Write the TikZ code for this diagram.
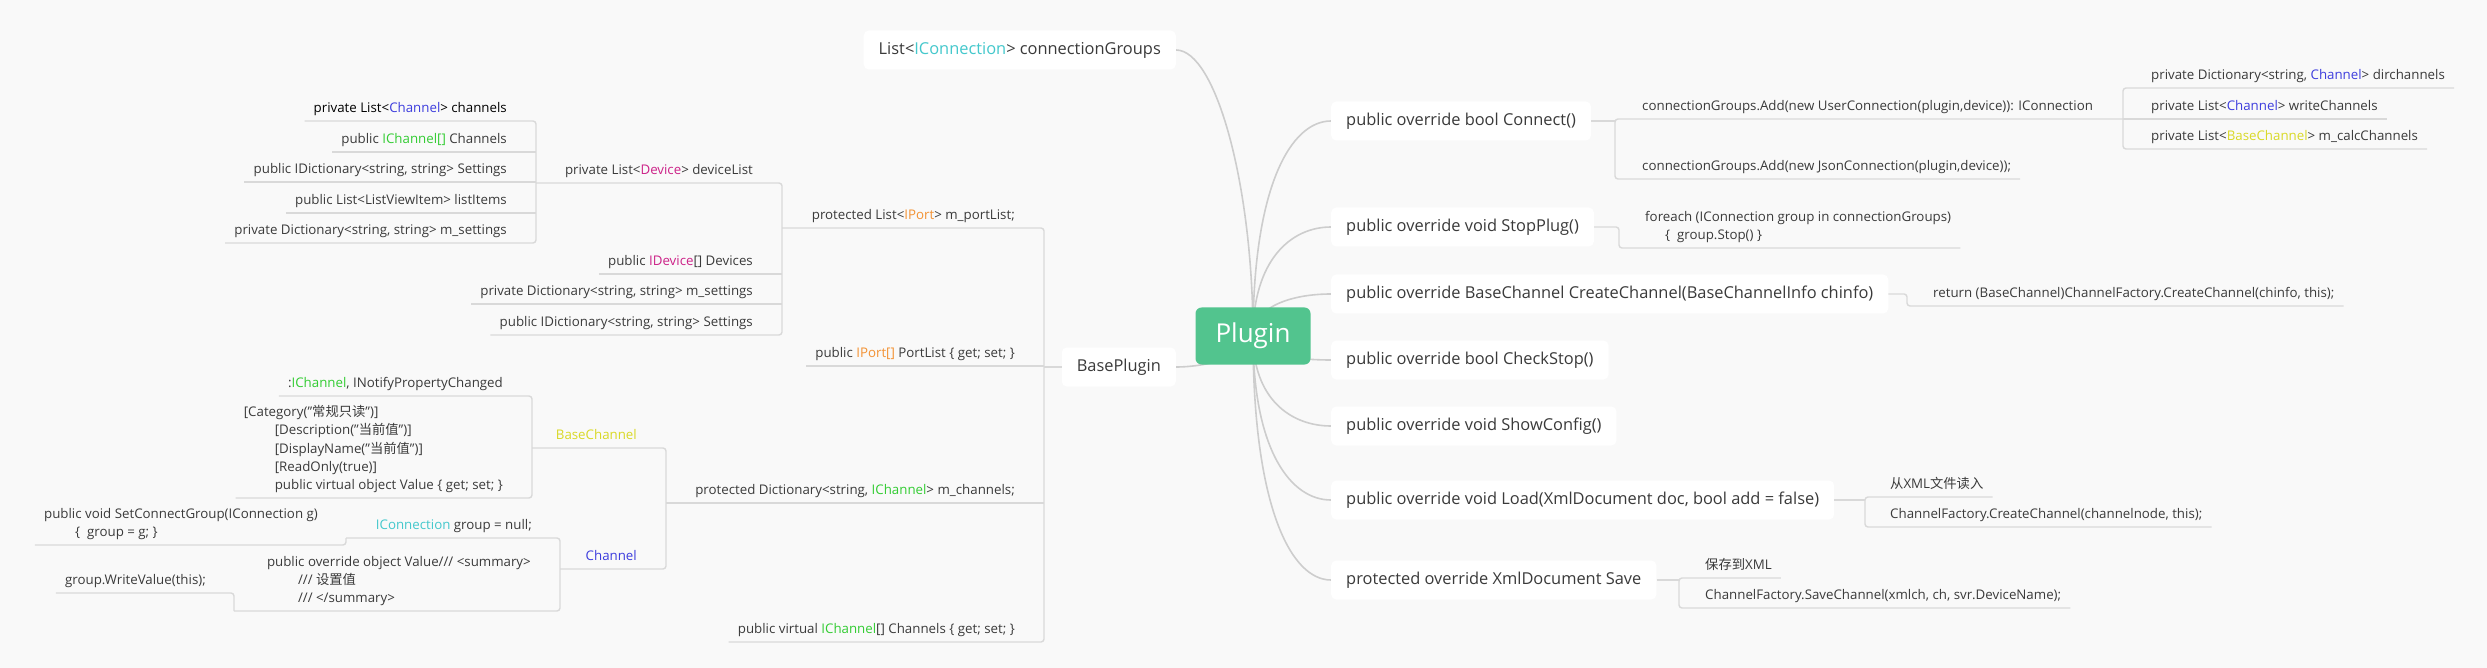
\documentclass[tikz,border=0pt]{standalone}
\usepackage{fontspec}
\setmainfont{Open Sans}
\newfontfamily\cjk{Noto Sans CJK SC}
\usetikzlibrary{calc}

\definecolor{bgcol}{HTML}{F9F9F9}
\definecolor{plugingreen}{HTML}{52C48E}
\definecolor{linkgray}{HTML}{CDCDCD}
\definecolor{leafgray}{HTML}{D9D9D9}
\definecolor{txt}{HTML}{3A3A3A}
\definecolor{conncol}{HTML}{44C8CC}
\definecolor{portcol}{HTML}{F39233}
\definecolor{devcol}{HTML}{CC2288}
\definecolor{ichcol}{HTML}{33CC33}
\definecolor{chcol}{HTML}{3D3DDD}
\definecolor{bchcol}{HTML}{D9D926}

\newcommand{\kwConn}{\textcolor{conncol}{IConnection}}
\newcommand{\kwPort}{\textcolor{portcol}{IPort}}
\newcommand{\kwDev}{\textcolor{devcol}{Device}}
\newcommand{\kwICh}{\textcolor{ichcol}{IChannel}}
\newcommand{\kwCh}{\textcolor{chcol}{Channel}}
\newcommand{\kwBCh}{\textcolor{bchcol}{BaseChannel}}
\newcommand{\tabin}{\hspace*{31pt}}

\pgfdeclarelayer{back}
\pgfdeclarelayer{links}
\pgfsetlayers{back,links,main}

\begin{document}
\begin{tikzpicture}[x=1pt,y=-1pt]
  \tikzstyle{topic} = [fill=white, rounded corners=5pt, inner xsep=15pt, inner ysep=0pt, minimum height=39pt, text=txt, font={\fontsize{16.4}{19}\selectfont}]
  \tikzstyle{root} = [fill=plugingreen, rounded corners=6pt, minimum width=115pt, minimum height=57pt, text=white, font={\fontsize{26}{30}\selectfont}]
  \tikzstyle{leaf} = [inner sep=0pt, text=txt, text depth=8pt, font={\fontsize{13.3}{18.3}\selectfont}]
  \tikzstyle{leafR} = [leaf, anchor=south west]
  \tikzstyle{leafL} = [leaf, anchor=south east]
  \tikzstyle{branchLink} = [linkgray, line width=1.6pt]
  \tikzstyle{leafLink} = [leafgray, line width=1.4pt, rounded corners=3pt]

  \begin{pgfonlayer}{back}
    \fill[bgcol] (0,0) rectangle (2487,668);
  \end{pgfonlayer}
  \useasboundingbox (0,0) rectangle (2487,668);

  \node[root] (plugin) at (1253,336) {Plugin};

  % right side
  \node[topic, anchor=west] (connect)   at (1331,121) {public override bool Connect()};
  \node[topic, anchor=west] (stopplug)  at (1331,227) {public override void StopPlug()};
  \node[topic, anchor=west] (createch)  at (1331,294) {public override BaseChannel CreateChannel(BaseChannelInfo chinfo)};
  \node[topic, anchor=west] (checkstop) at (1331,360) {public override bool CheckStop()};
  \node[topic, anchor=west] (showcfg)   at (1331,426) {public override void ShowConfig()};
  \node[topic, anchor=west] (load)      at (1331,500) {public override void Load(XmlDocument doc, bool add = false)};
  \node[topic, anchor=west] (save)      at (1331,580) {protected override XmlDocument Save};

  % left side
  \node[topic, anchor=east] (conngroups) at (1176,50)  {List<\kwConn> connectionGroups};
  \node[topic, anchor=east] (baseplugin) at (1176,367) {BasePlugin};

  \begin{pgfonlayer}{links}
    \draw[branchLink] (conngroups.east) .. controls ([xshift=40pt]conngroups.east) and ([yshift=150pt]plugin.center) .. (plugin.center);
    \draw[branchLink] (baseplugin.east) .. controls ([xshift=30pt]baseplugin.east) and ([yshift=-20pt]plugin.center) .. (plugin.center);
    \foreach \n/\k in {connect/150, stopplug/76, createch/29, checkstop/-17, showcfg/-63, load/-115, save/-171}
      \draw[branchLink] (plugin.center) .. controls ([yshift=\k pt]plugin.center) and ([xshift=-40pt]\n.west) .. (\n.west);
  \end{pgfonlayer}

  % brackets
  \coordinate (connbr) at (1615,119);
  \coordinate (ucbr)   at (2123,119);
  \coordinate (spbr)   at (1619,248);
  \coordinate (crbr)   at (1907,306);
  \coordinate (ldbr)   at (1865,497);
  \coordinate (svbr)   at (1679,578);
  \coordinate (bpbr)   at (1044,367);
  \coordinate (plbr)   at (782,228);
  \coordinate (dlbr)   at (536,183);
  \coordinate (mcbr)   at (666,503);
  \coordinate (bcbr)   at (532,448);
  \coordinate (chbr)   at (560,569);
  \coordinate (icbr)   at (346,538);
  \coordinate (vlbr)   at (234,611);

  % Connect()
  \node[leafR] (ua) at (1642,119) {connectionGroups.Add(new UserConnection(plugin,device)): IConnection};
  \node[leafR] (ub) at (1642,179) {connectionGroups.Add(new JsonConnection(plugin,device));};
  \node[leafR] (ga) at (2151,88)  {private Dictionary<string, \kwCh> dirchannels};
  \node[leafR] (gb) at (2151,119) {private List<\kwCh> writeChannels};
  \node[leafR] (gc) at (2151,149) {private List<\kwBCh> m\_calcChannels};
  \draw[leafLink] (connect.east) -- (connbr |- connect.east);
  \draw[leafLink] (ucbr |- ua.south) -- (connbr |- ua.south) -- (connbr |- ub.south) -- ([xshift=9pt]ub.south east);
  \draw[leafLink] ([xshift=9pt]ga.south east) -- (ucbr |- ga.south) -- (ucbr |- gc.south) -- ([xshift=9pt]gc.south east);
  \draw[leafLink] (ucbr |- gb.south) -- ([xshift=9pt]gb.south east);

  % StopPlug / CreateChannel
  \node[leafR] (sp) at (1645,248) {\vbox{\hbox{foreach (IConnection group in connectionGroups)}\hbox{\hspace*{20pt}\{\ \ group.Stop() \}}}};
  \node[leafR] (cr) at (1933,306) {return (BaseChannel)ChannelFactory.CreateChannel(chinfo, this);};
  \draw[leafLink] (stopplug.east) -| (spbr |- sp.south) -- ([xshift=9pt]sp.south east);
  \draw[leafLink] (createch.east) -| (crbr |- cr.south) -- ([xshift=9pt]cr.south east);

  % Load / Save
  \node[leafR] (la) at (1890,497) {{\cjk 从}XML{\cjk 文件读入}};
  \node[leafR] (lb) at (1890,527) {ChannelFactory.CreateChannel(channelnode, this);};
  \node[leafR] (sa) at (1705,578) {{\cjk 保存到}XML};
  \node[leafR] (sb) at (1705,608) {ChannelFactory.SaveChannel(xmlch, ch, svr.DeviceName);};
  \draw[leafLink] (load.east) -- (ldbr |- load.east);
  \draw[leafLink] ([xshift=9pt]la.south east) -- (ldbr |- la.south) -- (ldbr |- lb.south) -- ([xshift=9pt]lb.south east);
  \draw[leafLink] (save.east) -- (svbr |- save.east);
  \draw[leafLink] ([xshift=9pt]sa.south east) -- (svbr |- sa.south) -- (svbr |- sb.south) -- ([xshift=9pt]sb.south east);

  % BasePlugin
  \node[leafL] (pl) at (1015,228) {protected List<\kwPort> m\_portList;};
  \node[leafL] (pp) at (1015,366) {public \textcolor{portcol}{IPort[]} PortList \{ get; set; \}};
  \node[leafL] (mc) at (1015,503) {protected Dictionary<string, \kwICh> m\_channels;};
  \node[leafL] (vc) at (1015,642) {public virtual \kwICh[] Channels \{ get; set; \}};
  \draw[leafLink] (baseplugin.west) -- (bpbr |- baseplugin.west);
  \draw[leafLink] (plbr |- pl.south) -- (bpbr |- pl.south) -- (bpbr |- vc.south) -- ([xshift=-9pt]vc.south west);
  \draw[leafLink] ([xshift=-9pt]pp.south west) -- (bpbr |- pp.south);
  \draw[leafLink] (mcbr |- mc.south) -- (bpbr |- mc.south);

  % m_portList
  \node[leafL] (dl) at (753,183) {private List<\kwDev> deviceList};
  \node[leafL] (dv) at (753,274) {public \textcolor{devcol}{IDevice}[] Devices};
  \node[leafL] (ds) at (753,304) {private Dictionary<string, string> m\_settings};
  \node[leafL] (di) at (753,335) {public IDictionary<string, string> Settings};
  \draw[leafLink] (dlbr |- dl.south) -- (plbr |- dl.south) -- (plbr |- di.south) -- ([xshift=-9pt]di.south west);
  \draw[leafLink] ([xshift=-9pt]dv.south west) -- (plbr |- dv.south);
  \draw[leafLink] ([xshift=-9pt]ds.south west) -- (plbr |- ds.south);

  % deviceList
  \node[leafL, text=black] (d1) at (507,121) {private List<\kwCh> channels};
  \node[leafL] (d2) at (507,152) {public \textcolor{ichcol}{IChannel[]} Channels};
  \node[leafL] (d3) at (507,182) {public IDictionary<string, string> Settings};
  \node[leafL] (d4) at (507,213) {public List<ListViewItem> listItems};
  \node[leafL] (d5) at (507,243) {private Dictionary<string, string> m\_settings};
  \draw[leafLink] ([xshift=-9pt]d1.south west) -- (dlbr |- d1.south) -- (dlbr |- d5.south) -- ([xshift=-9pt]d5.south west);
  \foreach \n in {d2,d3,d4}
    \draw[leafLink] ([xshift=-9pt]\n.south west) -- (dlbr |- \n.south);

  % m_channels
  \node[leafL] (bc) at (637,448) {\kwBCh};
  \node[leafL] (ch) at (637,569) {\kwCh};
  \draw[leafLink] (bcbr |- bc.south) -- (mcbr |- bc.south) -- (mcbr |- ch.south) -- (chbr |- ch.south);

  % BaseChannel
  \node[leafL] (b1) at (503,396) {:\kwICh, INotifyPropertyChanged};
  \node[leafL] (b2) at (503,498) {\vbox{\hbox{[Category("{\cjk 常规只读}")]}
      \hbox{\tabin{}[Description("{\cjk 当前值}")]}
      \hbox{\tabin{}[DisplayName("{\cjk 当前值}")]}
      \hbox{\tabin{}[ReadOnly(true)]}
      \hbox{\tabin{}public virtual object Value \{ get; set; \}}}};
  \draw[leafLink] ([xshift=-9pt]b1.south west) -- (bcbr |- b1.south) -- (bcbr |- b2.south) -- ([xshift=-8pt]b2.south west);

  % Channel
  \node[leafL] (c1) at (532,538) {\kwConn{} group = null;};
  \node[leafL] (c2) at (531,611) {\vbox{\hbox{public override object Value/// <summary>}
      \hbox{\tabin{}/// {\cjk 设置值}}
      \hbox{\tabin{}/// </summary>}}};
  \node[leafL] (s1) at (318,545) {\vbox{\hbox{public void SetConnectGroup(IConnection g)}\hbox{\tabin{}\{\ \ group = g; \}}}};
  \node[leafL] (w1) at (206,593) {group.WriteValue(this);};
  \draw[leafLink] (icbr |- c1.south) -- (chbr |- c1.south) -- (chbr |- c2.south) -- (vlbr |- c2.south);
  \draw[leafLink] (icbr |- c1.south) -- (icbr |- s1.south) -- ([xshift=-9pt]s1.south west);
  \draw[leafLink] (vlbr |- c2.south) -- (vlbr |- w1.south) -- ([xshift=-9pt]w1.south west);
\end{tikzpicture}
\end{document}
